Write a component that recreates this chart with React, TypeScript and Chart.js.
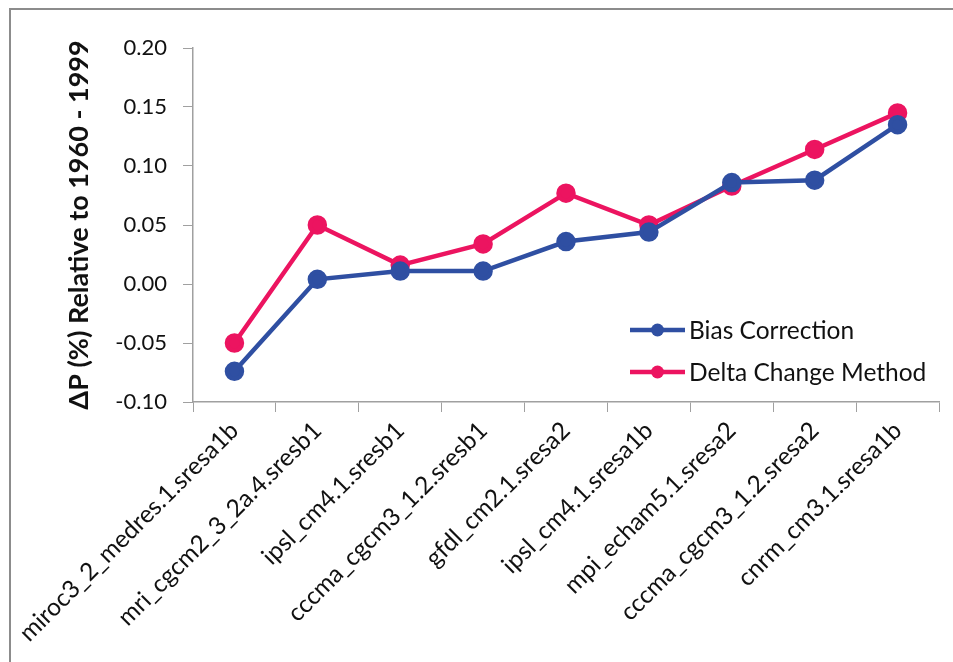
import { useEffect, useRef } from "react";
import { Chart, registerables } from "chart.js";

Chart.register(...registerables);

// Climate model runs along the category axis
const models = [
  "miroc3_2_medres.1.sresa1b",
  "mri_cgcm2_3_2a.4.sresb1",
  "ipsl_cm4.1.sresb1",
  "cccma_cgcm3_1.2.sresb1",
  "gfdl_cm2.1.sresa2",
  "ipsl_cm4.1.sresa1b",
  "mpi_echam5.1.sresa2",
  "cccma_cgcm3_1.2.sresa2",
  "cnrm_cm3.1.sresa1b",
];

// Change in precipitation relative to 1960 - 1999
const biasCorrection = [-0.074, 0.004, 0.011, 0.011, 0.036, 0.044, 0.086, 0.088, 0.135];
const deltaChange = [-0.05, 0.05, 0.016, 0.034, 0.077, 0.05, 0.083, 0.114, 0.145];

const seriesNames = ["Bias Correction", "Delta Change Method"];
const seriesColors = ["#2f4fa2", "#ec1460"];

const yMin = -0.1;
const yMax = 0.2;
const yStep = 0.05;

const FONT = "Lato, 'Open Sans', sans-serif";
const AXIS_GREY = "#a0a0a0";

// Legend drawn inside the plot area, lower right
const insideLegend = {
  id: "insideLegend",
  afterDatasetsDraw(chart: any) {
    const { ctx, chartArea } = chart;
    const x0 = chartArea.right - 309;
    const rowY = [chartArea.top + 282, chartArea.top + 324];
    ctx.save();
    chart.data.datasets.forEach((ds: any, i: number) => {
      const y = rowY[i];
      ctx.strokeStyle = ds.borderColor;
      ctx.lineWidth = 4.5;
      ctx.beginPath();
      ctx.moveTo(x0, y);
      ctx.lineTo(x0 + 55, y);
      ctx.stroke();
      ctx.fillStyle = ds.borderColor;
      ctx.beginPath();
      ctx.arc(x0 + 27.5, y, 6.5, 0, Math.PI * 2);
      ctx.fill();
      ctx.fillStyle = "#111111";
      ctx.font = `24.5px ${FONT}`;
      ctx.textAlign = "left";
      ctx.textBaseline = "middle";
      ctx.fillText(ds.label, x0 + 59, y + 1);
    });
    ctx.restore();
  },
};

export default function App() {
  const canvasRef = useRef<HTMLCanvasElement | null>(null);

  useEffect(() => {
    const canvas = canvasRef.current;
    if (!canvas) return;
    const series = [biasCorrection, deltaChange];
    const chart = new Chart(canvas, {
      type: "line",
      data: {
        labels: models,
        datasets: series.map((values, i) => ({
          label: seriesNames[i],
          data: values,
          borderColor: seriesColors[i],
          backgroundColor: seriesColors[i],
          pointBackgroundColor: seriesColors[i],
          pointBorderColor: seriesColors[i],
          borderWidth: 4.5,
          pointRadius: 7.5,
          pointHoverRadius: 7.5,
          tension: 0,
          fill: false,
        })),
      },
      options: {
        animation: false,
        responsive: false,
        maintainAspectRatio: false,
        layout: { padding: { top: 48, right: 14, left: 0, bottom: 0 } },
        plugins: {
          legend: { display: false },
          tooltip: { enabled: false },
        },
        scales: {
          x: {
            type: "category",
            offset: true,
            grid: {
              offset: true,
              drawOnChartArea: false,
              drawTicks: true,
              tickLength: 10,
              color: AXIS_GREY,
              lineWidth: 1,
            },
            border: { color: AXIS_GREY, width: 1.5 },
            ticks: {
              autoSkip: false,
              maxRotation: 45,
              minRotation: 45,
              padding: 4,
              color: "#111111",
              font: { family: FONT, size: 24.5 },
            },
            afterFit(scale: any) {
              scale.height = 260;
            },
          },
          y: {
            min: yMin,
            max: yMax,
            grid: {
              drawOnChartArea: false,
              drawTicks: true,
              tickLength: 10,
              color: AXIS_GREY,
              lineWidth: 1,
            },
            border: { color: AXIS_GREY, width: 1.5 },
            ticks: {
              stepSize: yStep,
              padding: 16,
              color: "#111111",
              font: { family: FONT, size: 22 },
              callback: (v: any) => {
                const n = Math.abs(Number(v)) < 1e-9 ? 0 : Number(v);
                return n.toFixed(2);
              },
            },
            title: {
              display: true,
              text: "ΔP (%) Relative to 1960 - 1999",
              color: "#111111",
              font: { family: FONT, size: 27, weight: "bold" },
              padding: { top: 63, bottom: 0 },
            },
            afterFit(scale: any) {
              scale.width = 193;
            },
          },
        },
      },
      plugins: [insideLegend],
    });
    return () => chart.destroy();
  }, []);

  return (
    <div
      style={{
        position: "fixed",
        left: 0,
        top: 0,
        width: 953,
        height: 662,
        background: "#ffffff",
        overflow: "hidden",
      }}
    >
      <div
        style={{
          position: "absolute",
          left: 9,
          top: 8,
          width: 944,
          height: 654,
          borderTop: "2px solid #8c8c8c",
          borderLeft: "2px solid #8c8c8c",
        }}
      />
      <canvas
        ref={canvasRef}
        width={953}
        height={662}
        style={{ position: "absolute", left: 0, top: 0, width: 953, height: 662 }}
      />
    </div>
  );
}
